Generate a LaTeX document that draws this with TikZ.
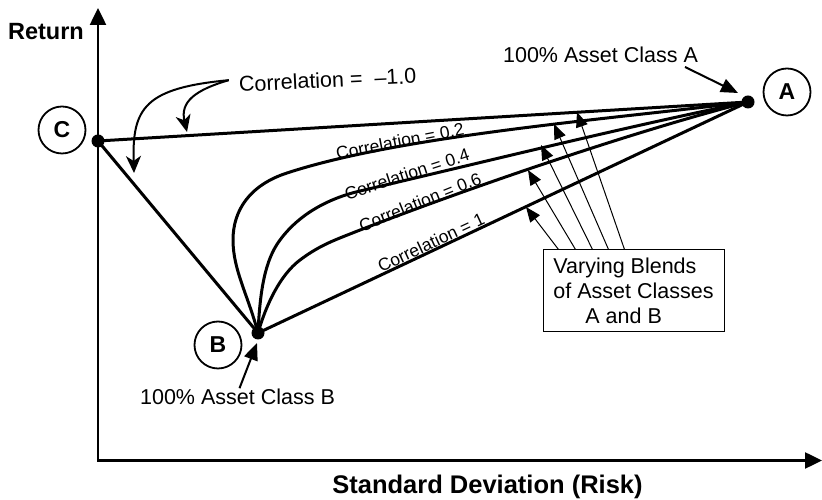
\documentclass[tikz,border=0pt]{standalone}
\usepackage{fontspec}
\setmainfont{Liberation Sans}
\usetikzlibrary{arrows.meta,calc}
\begin{document}
\begin{tikzpicture}[x=1pt,y=1pt,
  axis/.style={line width=2.5pt,line join=miter,
    {Triangle[length=17pt,width=16pt]}-{Triangle[length=17pt,width=16pt]}},
  dot/.style={circle,fill=black,inner sep=0pt,minimum size=13pt},
  tag/.style={circle,draw,line width=1.8pt,minimum size=47pt,inner sep=0pt,
    font=\fontsize{23}{23}\selectfont\bfseries},
  frontier/.style={line width=3pt,line join=round,line cap=round},
  lbl/.style={font=\fontsize{21.5}{25}\selectfont,inner sep=0pt},
  corr/.style={font=\fontsize{17.5}{20}\selectfont,inner sep=0pt},
  pointer/.style={line width=1pt,-{Triangle[length=15pt,width=12pt]}},
  callout/.style={line width=2pt,-{Triangle[length=17pt,width=14pt]}},
  swoop/.style={line width=2pt,-{Stealth[length=17pt,width=15pt,inset=5pt]}}]
\useasboundingbox (0,0) rectangle (822,500);

% axes
\coordinate (O) at (98,39.5);
\coordinate (ytop) at (98,492);
\coordinate (xend) at (822,39.5);
\draw[axis] (ytop) -- (O) -- (xend);
\node[font=\fontsize{23.5}{24}\selectfont\bfseries,inner sep=0pt,anchor=base] (ylab) at (46,460) {Return};
\node[font=\fontsize{25.5}{26}\selectfont\bfseries,inner sep=0pt,anchor=base] (xlab) at (487.5,6.5) {Standard Deviation (Risk)};

% portfolio end points
\node[dot] (C) at (98,359) {};
\node[dot] (A) at (748,398) {};
\node[dot] (B) at (258,167) {};
\node[tag] (tagC) at (62,370) {C};
\node[tag] (tagA) at (787,408) {A};
\node[tag] (tagB) at (218,155) {B};

% correlation = -1 legs
\draw[frontier] (C.center) -- (A.center);
\draw[frontier] (C.center) -- (B.center);
% correlation = 1
\draw[frontier] (B.center) -- (A.center);
% correlation = 0.2
\draw[frontier] (B.center) .. controls (248,205) and (233,230) .. (233,260)
  .. controls (233,290) and (250,315) .. (287,327)
  .. controls (400,364) and (600,380) .. (A.center);
% correlation = 0.4
\draw[frontier] (B.center) .. controls (260,210) and (265,240) .. (280,260)
  .. controls (300,287) and (330,302) .. (360,309)
  .. controls (480,337) and (620,372) .. (A.center);
% correlation = 0.6
\draw[frontier] (B.center) .. controls (266,195) and (280,225) .. (300,240)
  .. controls (320,255) and (335,260) .. (355,268)
  .. controls (450,305) and (620,365) .. (A.center);

\node[corr,rotate=11] (c02) at (400,359) {Correlation = 0.2};
\node[corr,rotate=18] (c04) at (407,326) {Correlation = 0.4};
\node[corr,rotate=22] (c06) at (420,298) {Correlation = 0.6};
\node[corr,rotate=25] (c10) at (431,257.5) {Correlation = 1};

% negative correlation label and its arrows
\node[lbl,anchor=base,rotate=2.8] (neg) at (328,412.5) {Correlation =\ \ \textendash1.0};
\coordinate (negstart) at ($(neg.west)+(-10,4)$);
\coordinate (negtipA) at (187,368);
\coordinate (negtipB) at (134,327);
\draw[swoop] (negstart) .. controls (195,410) and (180,398) .. (negtipA);
\draw[swoop] (negstart) .. controls (145,412) and (132,392) .. (negtipB);

% 100% labels
\node[lbl,anchor=base] (pctA) at (600.5,437) {100\% Asset Class A};
\coordinate (pctAtail) at (685,433);
\coordinate (pctAtip) at ($(A)+(-10,9)$);
\draw[callout] (pctAtail) -- (pctAtip);
\node[lbl,anchor=base] (pctB) at (237.5,95) {100\% Asset Class B};
\coordinate (pctBtail) at ($(pctB.north)+(2,1)$);
\coordinate (pctBtip) at ($(B)+(-1,-10)$);
\draw[callout] (pctBtail) -- (pctBtip);

% blends box with its pointers
\node[draw,line width=1pt,minimum width=181pt,minimum height=82pt,align=left,lbl]
  (blend) at (633.5,209) {Varying Blends\\of Asset Classes\\\hspace*{32pt}A and B};
\coordinate (p1) at (526,293);
\coordinate (p2) at (528,330);
\coordinate (p3) at (541,355);
\coordinate (p4) at (554,376);
\coordinate (p5) at (577,388);
\draw[pointer] ($(blend.north west)+(16,0)$) -- (p1);
\draw[pointer] ($(blend.north west)+(33,0)$) -- (p2);
\draw[pointer] ($(blend.north west)+(50,0)$) -- (p3);
\draw[pointer] ($(blend.north west)+(66,0)$) -- (p4);
\draw[pointer] ($(blend.north west)+(82,0)$) -- (p5);
\end{tikzpicture}
\end{document}
